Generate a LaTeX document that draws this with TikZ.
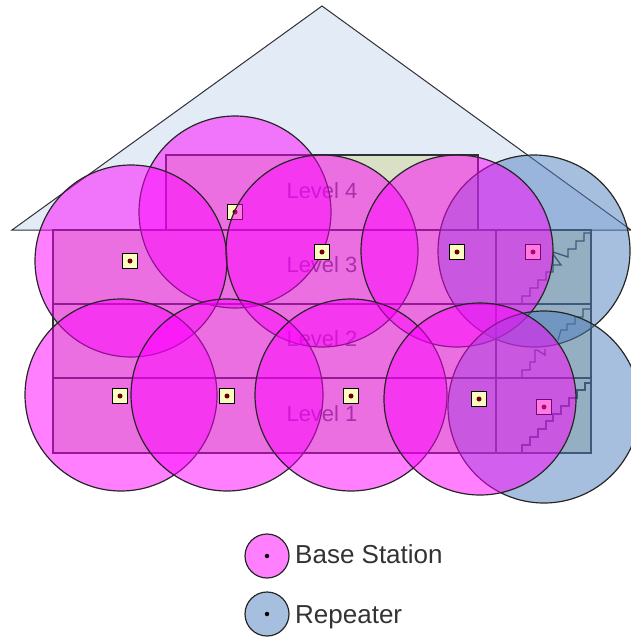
\documentclass[tikz,border=0pt]{standalone}
\usepackage{fontspec}
\setmainfont{Liberation Sans}
\definecolor{roofc}{HTML}{E3EBF7}
\definecolor{floorc}{HTML}{DAE0C6}
\definecolor{magc}{HTML}{FF00FF}
\definecolor{repc}{HTML}{5080C0}
\definecolor{linec}{HTML}{303038}
\definecolor{boxc}{HTML}{FCFCC0}
\definecolor{dotc}{HTML}{700000}
\tikzset{
  cell/.style={circle,draw=black!85,line width=1.2pt,inner sep=0pt,minimum size=192pt,fill opacity=.5},
  basecell/.style={cell,fill=magc},
  repcell/.style={cell,fill=repc},
  basekey/.style={basecell,minimum size=44pt},
  repkey/.style={repcell,minimum size=44pt},
  unitbox/.style={rectangle,draw=black,line width=1.8pt,fill=boxc,inner sep=0pt,minimum size=15pt},
  unitdot/.style={circle,fill=dotc,inner sep=0pt,minimum size=5pt},
  keydot/.style={circle,fill=black,inner sep=0pt,minimum size=4.5pt},
  house/.style={draw=linec,line width=1.5pt,fill=floorc},
  wall/.style={draw=linec,line width=1.5pt},
  stair/.style={draw=linec,line width=1.3pt},
  lvl/.style={font=\fontsize{22}{24}\selectfont,text=black!65,inner sep=0pt},
  keytext/.style={font=\fontsize{26}{28}\selectfont,text=black!80,inner sep=0pt,anchor=west}
}
\newcommand{\unit}[3]{\node[unitbox] (b#1) at (#2,#3) {}; \node[unitdot] (d#1) at (#2,#3) {};}
\begin{document}
\begin{tikzpicture}[x=1pt,y=-1pt]
\useasboundingbox (0,0) rectangle (631,637);
\clip (0,0) rectangle (631,637);
% house
\draw[line width=1pt,draw=linec,fill=roofc] (12,230) -- (322,6) -- (631,230) -- cycle;
\path[house] (166,155) rectangle (478,230);
\path[house] (53,230) rectangle (591,304);
\path[house] (53,304) rectangle (591,378);
\path[house] (53,378) rectangle (591,453);
\draw[wall] (496,230) -- (496,453);
% stairs
\draw[stair] (522,304) |- (530,296) |- (538,288) |- (546,280) |- (553,272) -- (553,254) -- (561,265) -- (553,265);
\draw[stair] (553,252) -- (568,257) |- (576,249) |- (584,241) |- (590,233);
\draw[stair] (522,378) |- (530,370) |- (535,362) |- (537,350) -- (545,355) -- (545,349);
\draw[stair] (558,340) -- (561,330) -- (567,330) |- (575,324) |- (583,317) |- (590,309);
\draw[stair] (522,453) |- (530,445) |- (538,437) |- (546,429) |- (553,421) |- (561,414) |- (569,406) |- (577,398) |- (585,390) |- (590,383);
% level labels
\node[lvl] (l4) at (322,191) {Level 4};
\node[lvl] (l3) at (322,265) {Level 3};
\node[lvl] (l2) at (322,339) {Level 2};
\node[lvl] (l1) at (322,414) {Level 1};
% upper row
\node[repcell] (r1) at (534,251) {}; \unit{r1}{533}{252}
\node[basecell] (c2) at (235,212) {}; \unit{c2}{235}{212}
\node[basecell] (c1) at (131,261) {}; \unit{c1}{130}{261}
\node[basecell] (c3) at (322,251) {}; \unit{c3}{322}{252}
\node[basecell] (c4) at (457,251) {}; \unit{c4}{457}{252}
% lower row
\node[repcell] (r2) at (544,407) {}; \unit{r2}{544}{407}
\node[basecell] (c5) at (121,395) {}; \unit{c5}{120}{396}
\node[basecell] (c6) at (227,395) {}; \unit{c6}{227}{396}
\node[basecell] (c7) at (351,395) {}; \unit{c7}{351}{396}
\node[basecell] (c8) at (480,399) {}; \unit{c8}{479}{399}
% legend
\node[basekey] (kb) at (267,556) {}; \node[keydot] (kbd) at (267,556) {};
\node[repkey] (kr) at (267,614) {}; \node[keydot] (krd) at (267,614) {};
\node[keytext] (tb) at (295,554) {Base Station};
\node[keytext] (tr) at (295,617) {Repeater};
\end{tikzpicture}
\end{document}
